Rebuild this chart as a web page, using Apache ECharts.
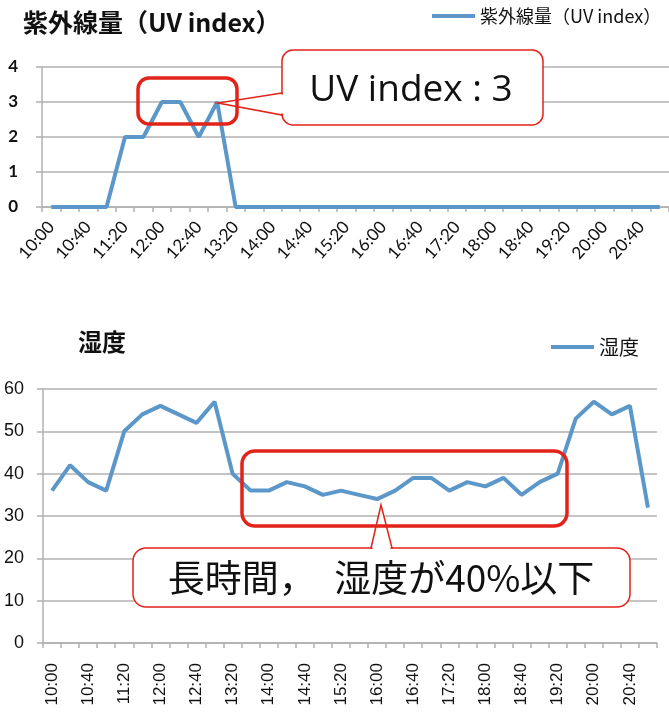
<!DOCTYPE html>
<html>
<head>
<meta charset="utf-8">
<script src="https://cdn.jsdelivr.net/npm/echarts@6/dist/echarts.min.js"></script>
<style>
html,body{margin:0;padding:0;background:#fff;}
#chart{width:669px;height:713px;}
</style>
</head>
<body>
<div id="chart"></div>
<script>
// time axis, every 20 minutes
var times = ['10:00','10:20','10:40','11:00','11:20','11:40','12:00','12:20','12:40','13:00',
             '13:20','13:40','14:00','14:20','14:40','15:00','15:20','15:40','16:00','16:20',
             '16:40','17:00','17:20','17:40','18:00','18:20','18:40','19:00','19:20','19:40',
             '20:00','20:20','20:40','21:00'];
// 紫外線量
var uvValues = [0,0,0,0,2,2,3,3,2,3,0,0,0,0,0,0,0,0,0,0,0,0,0,0,0,0,0,0,0,0,0,0,0,0];
// 湿度
var humidity = [36,42,38,36,50,54,56,54,52,57,40,36,36,38,37,35,36,35,34,36,
                39,39,36,38,37,39,35,38,40,53,57,54,56,32];
var uvTicks = [0,4,1];        // min, max, interval
var humTicks = [0,60,10];

var blue = '#5b97c9';
var red = '#e2231a';
var grey = '#b0b0b0';
var cjk = '"Noto Sans CJK JP", sans-serif';

var option = {
  animation: false,
  backgroundColor: '#fff',
  title: [
    {text: '紫外線量（UV index）', left: 18, top: 5,
     textStyle: {fontFamily: cjk, fontSize: 25, fontWeight: 'bold', color: '#111'}},
    {text: '湿度', left: 73, top: 325,
     textStyle: {fontFamily: cjk, fontSize: 24, fontWeight: 'bold', color: '#111'}}
  ],
  legend: [
    {data: ['紫外線量（UV index）'], left: 432, top: 7, padding: 0, icon: 'rect', itemWidth: 43, itemHeight: 4, itemGap: 5,
     textStyle: {fontFamily: cjk, fontSize: 18, color: '#111'}},
    {data: ['湿度'], left: 551, top: 337, padding: 0, icon: 'rect', itemWidth: 43, itemHeight: 4, itemGap: 4,
     textStyle: {fontFamily: cjk, fontSize: 20, color: '#111'}}
  ],
  grid: [
    {left: 42, right: -4, top: 67, height: 140},
    {left: 43, right: 12, top: 389, height: 254}
  ],
  xAxis: [
    {type: 'category', gridIndex: 0, data: times, boundaryGap: true,
     axisLine: {lineStyle: {color: grey, width: 1.5}},
     axisTick: {show: true, interval: 0, length: 5, lineStyle: {color: grey, width: 1.5}},
     axisLabel: {interval: 1, rotate: 48, margin: 17, fontSize: 17, color: '#111', fontFamily: 'Lato, sans-serif'}},
    {type: 'category', gridIndex: 1, data: times, boundaryGap: true,
     axisLine: {lineStyle: {color: grey, width: 1.5}},
     axisTick: {show: true, interval: 0, length: 5, lineStyle: {color: grey, width: 1.5}},
     axisLabel: {interval: 1, rotate: 90, margin: 20, fontSize: 17, color: '#111', fontFamily: '"Liberation Sans", sans-serif'}}
  ],
  yAxis: [
    {type: 'value', gridIndex: 0, min: uvTicks[0], max: uvTicks[1], interval: uvTicks[2],
     axisLine: {show: true, lineStyle: {color: grey, width: 1.5}},
     axisTick: {show: true, length: 6, lineStyle: {color: grey, width: 1.5}},
     splitLine: {lineStyle: {color: grey, width: 1.5}},
     axisLabel: {margin: 24, fontSize: 17, fontWeight: 'bold', color: '#111', fontFamily: 'Lato, sans-serif'}},
    {type: 'value', gridIndex: 1, min: humTicks[0], max: humTicks[1], interval: humTicks[2],
     axisLine: {show: true, lineStyle: {color: grey, width: 1.5}},
     axisTick: {show: true, length: 6, lineStyle: {color: grey, width: 1.5}},
     splitLine: {lineStyle: {color: grey, width: 1.5}},
     axisLabel: {margin: 19, fontSize: 18, color: '#111', fontFamily: '"Liberation Sans", sans-serif'}}
  ],
  series: [
    {name: '紫外線量（UV index）', type: 'line', xAxisIndex: 0, yAxisIndex: 0, data: uvValues,
     showSymbol: false, symbol: 'none', color: blue, lineStyle: {color: blue, width: 4}},
    {name: '湿度', type: 'line', xAxisIndex: 1, yAxisIndex: 1, data: humidity,
     showSymbol: false, symbol: 'none', color: blue, lineStyle: {color: blue, width: 4}}
  ],
  graphic: [
    // top callout: box, pointer, then a white stroke to open the box edge
    {type: 'rect', z: 100, shape: {x: 282, y: 50, width: 261, height: 75, r: 11},
     style: {fill: '#fff', stroke: red, lineWidth: 1.5}},
    {type: 'polygon', z: 100, shape: {points: [[282, 93], [218, 103], [282, 115]]},
     style: {fill: '#fff', stroke: red, lineWidth: 1.5}},
    {type: 'line', z: 101, shape: {x1: 282, y1: 94.5, x2: 282, y2: 113.5},
     style: {stroke: '#fff', lineWidth: 3}},
    {type: 'text', z: 101, x: 411, y: 90,
     style: {text: 'UV index : 3', fontFamily: '"Open Sans", sans-serif', fontSize: 37, fill: '#111',
             textAlign: 'center', textVerticalAlign: 'middle'}},
    {type: 'rect', z: 102, shape: {x: 138, y: 78, width: 99, height: 46, r: 11},
     style: {fill: 'none', stroke: red, lineWidth: 3.5}},
    // bottom callout
    {type: 'rect', z: 100, shape: {x: 133, y: 548, width: 497, height: 59, r: 13},
     style: {fill: '#fff', stroke: red, lineWidth: 1.5}},
    {type: 'polygon', z: 100, shape: {points: [[371, 548], [381, 505], [392, 548]]},
     style: {fill: '#fff', stroke: red, lineWidth: 1.5}},
    {type: 'line', z: 101, shape: {x1: 372.5, y1: 548, x2: 390.5, y2: 548},
     style: {stroke: '#fff', lineWidth: 3}},
    {type: 'text', z: 101, x: 381, y: 578,
     style: {text: '長時間，　湿度が40%以下', fontFamily: cjk, fontSize: 37, fill: '#111',
             textAlign: 'center', textVerticalAlign: 'middle'}},
    {type: 'rect', z: 102, shape: {x: 242, y: 451, width: 325, height: 75, r: 13},
     style: {fill: 'none', stroke: red, lineWidth: 3.5}}
  ]
};

var mychart = echarts.init(document.getElementById('chart'));
mychart.setOption(option);
</script>
</body>
</html>
